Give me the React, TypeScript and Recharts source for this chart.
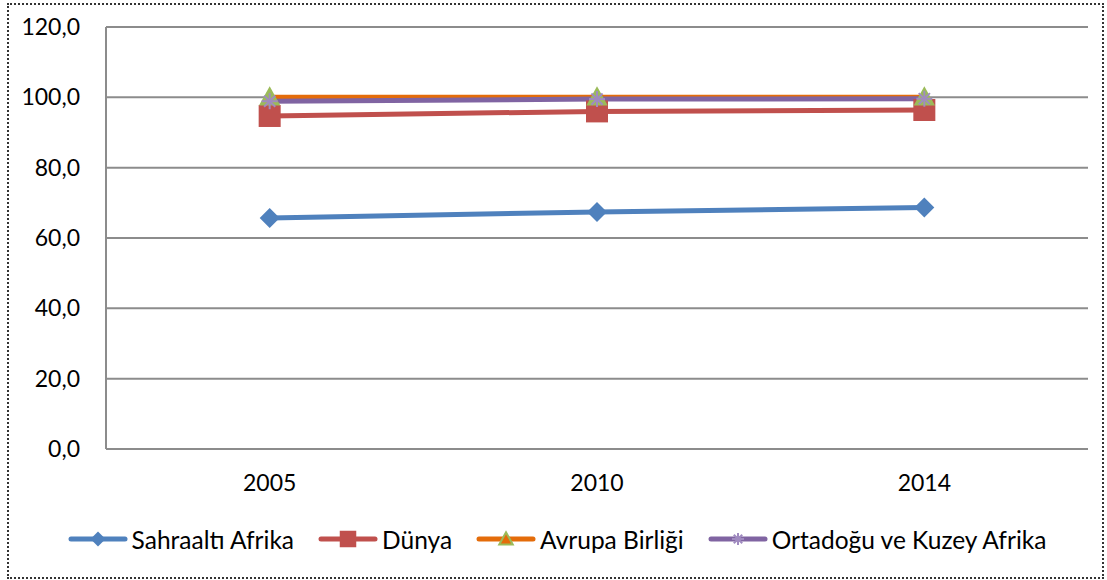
import React from "react";
import { LineChart, Line, XAxis, YAxis, CartesianGrid, Legend } from "recharts";

// ── Data ───────────────────────────────────────────────────────────────────────
const YEARS = ["2005", "2010", "2014"];
const SAHRAALTI = [65.7, 67.4, 68.7];
const DUNYA = [94.7, 96.0, 96.4];
const AVRUPA = [100.0, 100.0, 100.0];
const ORTADOGU = [98.9, 99.5, 99.6];
const Y_TICKS = [0, 20, 40, 60, 80, 100, 120];

const data = YEARS.map((year, i) => ({
    year,
    sahraalti: SAHRAALTI[i],
    dunya: DUNYA[i],
    avrupa: AVRUPA[i],
    ortadogu: ORTADOGU[i],
}));

const FONT = "Lato, 'Open Sans', sans-serif";
const GRID = "#8c8c8c";

// ── Markers ────────────────────────────────────────────────────────────────────
type Mk = "diamond" | "square" | "triangle" | "star";

function Marker({ kind, cx, cy, color, small }: { kind: Mk; cx: number; cy: number; color: string; small?: boolean }) {
    const s = small ? 0.75 : 1;
    if (kind === "diamond") {
        const r = 10 * s;
        return <path d={`M${cx},${cy - r}L${cx + r},${cy}L${cx},${cy + r}L${cx - r},${cy}Z`} fill={color} />;
    }
    if (kind === "square") {
        const r = 11 * s;
        return <rect x={cx - r} y={cy - r} width={2 * r} height={2 * r} fill={color} />;
    }
    if (kind === "triangle") {
        const r = 9 * s;
        return (
            <path
                d={`M${cx},${cy - r}L${cx + r},${cy + r * 0.8}L${cx - r},${cy + r * 0.8}Z`}
                fill={small ? "#e46c0a" : "#9bbb59"}
                stroke="#9bbb59"
                strokeWidth={2}
            />
        );
    }
    const r = 8 * s;
    return (
        <g stroke={color} strokeWidth={2}>
            <line x1={cx - r} y1={cy} x2={cx + r} y2={cy} />
            <line x1={cx} y1={cy - r} x2={cx} y2={cy + r} />
            <line x1={cx - r * 0.7} y1={cy - r * 0.7} x2={cx + r * 0.7} y2={cy + r * 0.7} />
            <line x1={cx - r * 0.7} y1={cy + r * 0.7} x2={cx + r * 0.7} y2={cy - r * 0.7} />
        </g>
    );
}

const dotFor = (kind: Mk, color: string) => (p: any) => (
    <Marker key={`${kind}-${p.index}`} kind={kind} cx={p.cx} cy={p.cy} color={color} />
);

const SERIES: { key: string; name: string; color: string; marker: Mk; markerColor: string }[] = [
    { key: "sahraalti", name: "Sahraaltı Afrika", color: "#4f81bd", marker: "diamond", markerColor: "#4f81bd" },
    { key: "dunya", name: "Dünya", color: "#c0504d", marker: "square", markerColor: "#c0504d" },
    { key: "avrupa", name: "Avrupa Birliği", color: "#e46c0a", marker: "triangle", markerColor: "#9bbb59" },
    { key: "ortadogu", name: "Ortadoğu ve Kuzey Afrika", color: "#8064a2", marker: "star", markerColor: "#a08bc0" },
];

// ── Legend ─────────────────────────────────────────────────────────────────────
const CustomLegend = () => (
    <div style={{ display: "flex", justifyContent: "center", alignItems: "center", fontFamily: FONT, fontSize: 24.5, color: "#000", height: 30, paddingLeft: 26 }}>
        {SERIES.map((s, i) => (
            <div key={s.key} style={{ display: "flex", alignItems: "center", marginRight: i < SERIES.length - 1 ? 24 : 0 }}>
                <svg width={60} height={24} style={{ marginRight: 4 }}>
                    <line x1={3} y1={12} x2={57} y2={12} stroke={s.color} strokeWidth={5} strokeLinecap="round" />
                    <Marker kind={s.marker} cx={30} cy={12} color={s.markerColor} small />
                </svg>
                <span>{s.name}</span>
            </div>
        ))}
    </div>
);

export default function App() {
    return (
        <div style={{ position: "fixed", left: 0, top: 0, width: 1107, height: 580, background: "#fff" }}>
            <div
                style={{
                    position: "absolute",
                    left: 7,
                    top: 3,
                    width: 1093,
                    height: 572,
                    border: "2px dotted #333",
                }}
            />
            <LineChart width={1107} height={580} data={data} margin={{ top: 27, right: 19, bottom: 0, left: 0 }}>
                <CartesianGrid vertical={false} stroke={GRID} strokeWidth={2} />
                <XAxis
                    dataKey="year"
                    scale="band"
                    axisLine={{ stroke: GRID, strokeWidth: 2 }}
                    tickLine={false}
                    tickSize={0}
                    tickMargin={26}
                    height={101}
                    tick={{ fontFamily: FONT, fontSize: 23, fill: "#000" }}
                />
                <YAxis
                    domain={[0, 120]}
                    ticks={Y_TICKS}
                    interval={0}
                    width={106}
                    axisLine={{ stroke: GRID, strokeWidth: 2 }}
                    tickLine={false}
                    tickSize={0}
                    tickMargin={26}
                    tickFormatter={(v: number) => v.toFixed(1).replace(".", ",")}
                    tick={{ fontFamily: FONT, fontSize: 23, fill: "#000" }}
                />
                <Legend content={<CustomLegend />} verticalAlign="bottom" wrapperStyle={{ bottom: 26 }} />
                {SERIES.map((s) => (
                    <Line
                        key={s.key}
                        type="linear"
                        dataKey={s.key}
                        name={s.name}
                        stroke={s.color}
                        strokeWidth={5}
                        dot={dotFor(s.marker, s.markerColor)}
                        activeDot={false}
                        isAnimationActive={false}
                    />
                ))}
            </LineChart>
        </div>
    );
}
